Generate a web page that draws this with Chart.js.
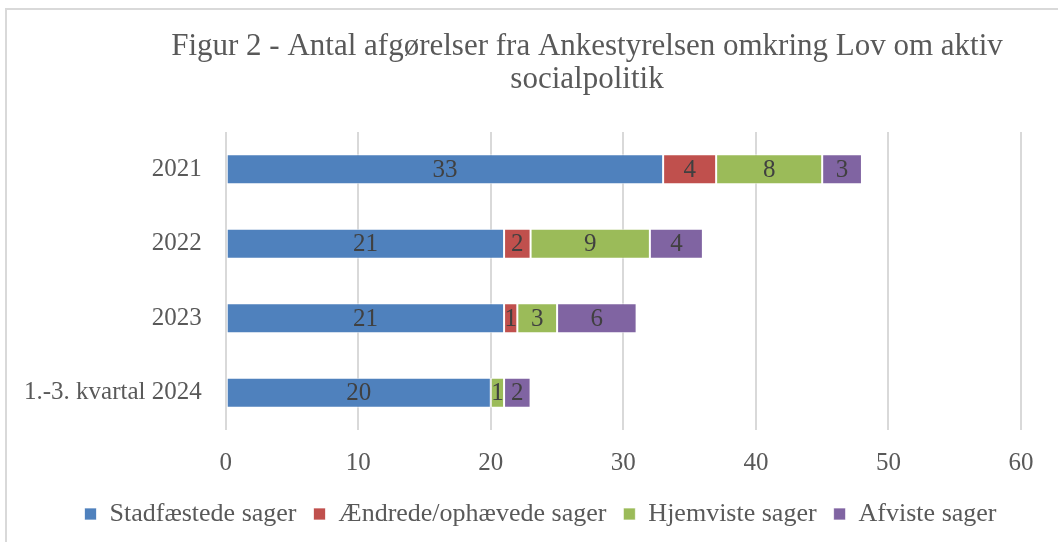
<!DOCTYPE html>
<html>
<head>
<meta charset="utf-8">
<script src="https://cdn.jsdelivr.net/npm/chart.js@4/dist/chart.umd.min.js"></script>
<style>
  html, body { margin: 0; padding: 0; background: #fff; overflow: hidden; }
  #frame { position: absolute; left: 5px; top: 8px; width: 1200px; height: 700px; border: 2px solid #d9d9d9; }
  #wrap { position: absolute; left: 0; top: 0; width: 1058px; height: 542px; }
</style>
</head>
<body>
<div id="frame"></div>
<div id="wrap"><canvas id="myChart"></canvas></div>
<script>
let categories = ['2021', '2022', '2023', '1.-3. kvartal 2024'];

let seriesNames = [
    'Stadfæstede sager',
    'Ændrede/ophævede sager',
    'Hjemviste sager',
    'Afviste sager',
];

let stadfaestede = [33, 21, 21, 20];
let aendrede = [4, 2, 1, 0];
let hjemviste = [8, 9, 3, 1];
let afviste = [3, 4, 6, 2];

let colors = ['#4f81bd', '#c0504d', '#9bbb59', '#8064a2'];

let xTicks = [0, 10, 20, 30, 40, 50, 60];

let titleLines = [
    'Figur 2 - Antal afgørelser fra Ankestyrelsen omkring Lov om aktiv',
    'socialpolitik',
];

const FONT = '"Liberation Serif", "Times New Roman", serif';
const TEXT = '#595959';

// draws the value inside each bar segment
const segmentLabels = {
    id: 'segmentLabels',
    afterDatasetsDraw(chart) {
        const ctx = chart.ctx;
        ctx.save();
        ctx.font = '25px ' + FONT;
        ctx.fillStyle = '#404040';
        ctx.textAlign = 'center';
        ctx.textBaseline = 'middle';
        chart.data.datasets.forEach((ds, i) => {
            const meta = chart.getDatasetMeta(i);
            meta.data.forEach((bar, j) => {
                const v = ds.data[j];
                if (!v) return;
                const p = bar.getProps(['x', 'y', 'base'], true);
                ctx.fillText(String(v), (p.x + p.base) / 2, p.y + 1);
            });
        });
        ctx.restore();
    }
};

// title is centred a bit right of the canvas, like the original
const figTitle = {
    id: 'figTitle',
    afterDraw(chart) {
        const ctx = chart.ctx;
        ctx.save();
        ctx.font = '31px ' + FONT;
        ctx.fillStyle = TEXT;
        ctx.textAlign = 'center';
        ctx.textBaseline = 'middle';
        titleLines.forEach((line, i) => {
            ctx.fillText(line, 587, 47 + i * 33);
        });
        ctx.restore();
    }
};

// nudge the legend box a little right and up, where the original has it
const legendNudge = {
    id: 'legendNudge',
    afterLayout(chart) {
        const l = chart.legend;
        l.left += 30;
        l.right += 30;
        l.top -= 12;
        l.bottom -= 12;
    }
};

let myChart = document.getElementById('myChart').getContext('2d');

let chart = new Chart(myChart, {
    type: 'bar',
    data: {
        labels: categories,
        datasets: [stadfaestede, aendrede, hjemviste, afviste].map((d, i) => ({
            label: seriesNames[i],
            data: d,
            backgroundColor: colors[i],
            borderColor: 'rgba(255,255,255,0.7)',
            borderWidth: 1,
            borderSkipped: false,
            categoryPercentage: 1,
            barPercentage: 0.4,
        }))
    },
    options: {
        indexAxis: 'y',
        responsive: true,
        maintainAspectRatio: false,
        animation: false,
        layout: {
            padding: { top: 132, right: 37, bottom: -7, left: 0 }
        },
        scales: {
            x: {
                stacked: true,
                min: 0,
                max: 60,
                afterBuildTicks: (axis) => {
                    axis.ticks = xTicks.map(v => ({ value: v }));
                },
                grid: { color: '#d9d9d9', lineWidth: 2, drawTicks: false },
                border: { display: false },
                ticks: {
                    color: TEXT,
                    font: { family: FONT, size: 25 },
                    padding: 18,
                }
            },
            y: {
                stacked: true,
                grid: { display: false, drawTicks: false },
                border: { display: false },
                ticks: {
                    color: TEXT,
                    font: { family: FONT, size: 25 },
                    padding: 24,
                }
            }
        },
        plugins: {
            legend: {
                display: true,
                position: 'bottom',
                labels: {
                    color: TEXT,
                    font: { family: FONT, size: 26 },
                    boxWidth: 12,
                    boxHeight: 12,
                    padding: 17,
                }
            },
            tooltip: { enabled: false },
            title: { display: false }
        }
    },
    plugins: [segmentLabels, figTitle, legendNudge]
});
</script>
</body>
</html>
